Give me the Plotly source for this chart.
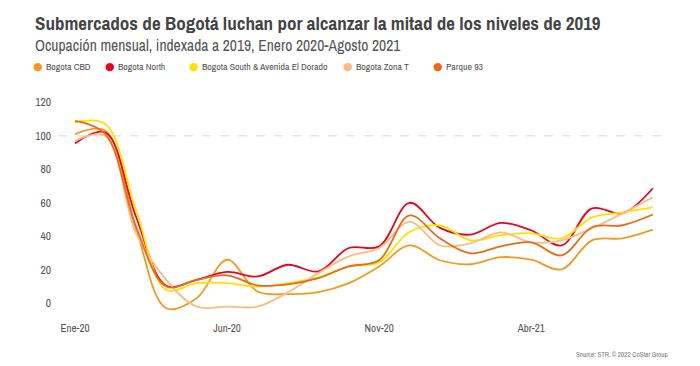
import plotly.graph_objects as go

months = ["Ene-20", "Feb-20", "Mar-20", "Abr-20", "May-20", "Jun-20", "Jul-20", "Ago-20",
          "Sep-20", "Oct-20", "Nov-20", "Dic-20", "Ene-21", "Feb-21", "Mar-21", "Abr-21",
          "May-21", "Jun-21", "Jul-21", "Ago-21"]
tick_labels = ["Ene-20", "Jun-20", "Nov-20", "Abr-21"]
y_ticks = [0, 20, 40, 60, 80, 100, 120]
baseline = 100

bogota_cbd = [101, 103, 45, -3, 3, 26, 7, 5.5, 6.6, 12, 22, 34.6, 25.7, 23.3, 27.5, 26, 20.3, 37.6, 38.8, 44]
bogota_north = [95.5, 102, 52, 10.5, 14, 18.7, 16, 23, 19, 33, 34, 60, 45, 41, 48, 43.6, 34.6, 56.7, 53.7, 68.7]
bogota_south = [108, 107, 56, 8, 12, 12, 10, 12, 15.5, 22, 24.5, 42.6, 46.5, 37.6, 40.6, 41.8, 38.8, 51.3, 54.3, 57.3]
zona_t = [97, 100, 42, 14, -2, -2, -2, 6.5, 18, 28, 33, 48.6, 34.6, 35.8, 42.4, 36.4, 37.6, 44.8, 53.7, 63.3]
parque_93 = [109, 101, 46, 10, 14, 16.7, 10.7, 11.3, 15, 22, 25.7, 52.5, 38.8, 29.8, 34, 36.4, 28.6, 45.4, 46.6, 53]

series = [
    ("Bogota CBD", bogota_cbd, "#F39A1E"),
    ("Bogota North", bogota_north, "#E3071D"),
    ("Bogota South & Avenida El Dorado", bogota_south, "#FFE100"),
    ("Bogota Zona T", zona_t, "#F7BE82"),
    ("Parque 93", parque_93, "#EA6A1C"),
]
legend_marker_x = [38, 110, 194, 348, 438]
legend_text_x = [44, 116, 200, 354, 444]

FONT = "Archivo Narrow, Barlow Condensed, Liberation Sans Narrow, Roboto, sans-serif"

W_PLOT = 700 - 58 - 35
H_PLOT = 366 - 94 - 46


def px(xp):
    return (xp - 58) / W_PLOT


def py(yp):
    return 1 + (94 - yp) / H_PLOT


fig = go.Figure()
for name, vals, color in series:
    fig.add_trace(go.Scatter(
        x=list(range(len(months))), y=vals, mode="lines", name=name,
        line=dict(color=color, width=1.8, shape="spline", smoothing=1.0),
        showlegend=False, hoverinfo="skip"))

fig.add_shape(type="line", xref="paper", x0=0, x1=1, yref="y", y0=baseline, y1=baseline,
              line=dict(color="#d9d9d9", width=1, dash="dash"), layer="below")

annotations = [
    dict(text="<b>Submercados de Bogotá luchan por alcanzar la mitad de los niveles de 2019</b>",
         xref="paper", yref="paper", x=px(33), y=py(23), xanchor="left", yanchor="middle",
         showarrow=False, font=dict(family=FONT, size=19, color="#444444")),
    dict(text="Ocupación mensual, indexada a 2019, Enero 2020-Agosto 2021",
         xref="paper", yref="paper", x=px(33), y=py(45), xanchor="left", yanchor="middle",
         showarrow=False, font=dict(family=FONT, size=15.6, color="#555555")),
    dict(text="Source: STR. © 2022 CoStar Group",
         xref="paper", yref="paper", x=px(670), y=py(354), xanchor="right", yanchor="middle",
         showarrow=False, font=dict(family=FONT, size=7, color="#777777")),
]
for (name, vals, color), mx, tx in zip(series, legend_marker_x, legend_text_x):
    annotations.append(dict(
        text="●", xref="paper", yref="paper", x=px(mx), y=py(67),
        xanchor="center", yanchor="middle", showarrow=False,
        font=dict(family="DejaVu Sans", size=11, color=color)))
    annotations.append(dict(
        text=name, xref="paper", yref="paper", x=px(tx), y=py(67),
        xanchor="left", yanchor="middle", showarrow=False,
        font=dict(family=FONT, size=9.8, color="#555555")))

fig.update_layout(
    width=700, height=366,
    margin=dict(l=58, r=35, t=94, b=46),
    paper_bgcolor="white", plot_bgcolor="white",
    showlegend=False,
    annotations=annotations,
    xaxis=dict(range=[-0.56, 19.4], tickmode="array",
               tickvals=[months.index(t) for t in tick_labels], ticktext=tick_labels,
               showgrid=False, zeroline=False, showline=False, ticks="",
               tickfont=dict(family=FONT, size=11, color="#555555")),
    yaxis=dict(range=[-10, 125], tickvals=y_ticks, showgrid=False, zeroline=False,
               showline=False, ticks="", ticklabelstandoff=6,
               tickfont=dict(family=FONT, size=11.5, color="#555555")),
)

fig.write_html("out.html", config={"displayModeBar": False},
               post_script="document.body.style.margin='0';document.body.style.overflow='hidden';")
